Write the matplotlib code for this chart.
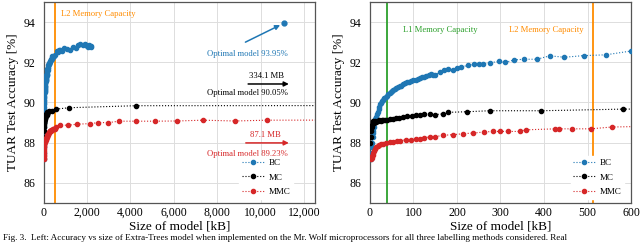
import matplotlib
matplotlib.use("Agg")
from matplotlib import pyplot as plt

plt.rcParams["font.family"] = ["Liberation Serif", "DejaVu Serif"]

# BC (binary classification) - size [kB] vs accuracy [%]
bc_size = [2, 3, 4, 5, 6, 7, 8, 9, 10, 12, 14, 16, 18, 20, 22, 24, 26, 28, 30,
           33, 36, 39, 42, 45, 48, 51, 54, 57, 60, 64, 68, 72, 76, 80, 85, 90,
           95, 100, 105, 110, 115, 120, 125, 130, 135, 140, 145, 150, 160, 170,
           180, 190, 200, 210, 225, 240, 250, 260, 275, 297, 311, 332, 355, 384,
           413, 447, 491, 542, 600, 650, 700, 766, 850, 950, 1073, 1200, 1379,
           1500, 1600, 1700, 1800, 1900, 1992, 2050, 2100, 2176, 2200]
bc_acc = [87.2, 87.5, 87.8, 88.0, 88.3, 88.5, 88.6, 88.8, 89.0, 89.2, 89.3,
          89.45, 89.55, 89.7, 89.8, 89.9, 89.95, 90.05, 90.1, 90.2, 90.25,
          90.3, 90.4, 90.45, 90.5, 90.55, 90.6, 90.65, 90.7, 90.75, 90.8, 90.8,
          90.9, 90.95, 91.0, 91.0, 91.05, 91.1, 91.1, 91.15, 91.2, 91.25, 91.25,
          91.3, 91.35, 91.4, 91.35, 91.37, 91.5, 91.6, 91.65, 91.6, 91.7, 91.76,
          91.85, 91.9, 91.9, 91.91, 91.98, 92.04, 91.99, 92.12, 92.15, 92.15,
          92.32, 92.25, 92.33, 92.37, 92.56, 92.5, 92.6, 92.6, 92.55, 92.7,
          92.65, 92.6, 92.75, 92.7, 92.85, 92.9, 92.85, 92.9, 92.8, 92.75,
          92.85, 92.77, 92.8]
bc_opt_size = [11070]
bc_opt_acc = [93.95]

# MC (multi-class)
mc_size = [1, 2, 3, 4, 5, 6, 7, 8, 10, 12, 15, 18, 21, 25, 28, 31, 35, 40, 45,
           54, 60, 66, 77, 85, 96, 105, 115, 125, 138, 150, 167, 180, 223, 275,
           394, 581, 1180, 4260, 334100]
mc_acc = [88.0, 88.3, 88.6, 88.8, 88.9, 89.0, 89.05, 89.1, 89.0, 89.1, 89.05,
          89.1, 89.15, 89.1, 89.12, 89.13, 89.15, 89.15, 89.17, 89.18, 89.22,
          89.25, 89.3, 89.32, 89.35, 89.38, 89.4, 89.42, 89.43, 89.4, 89.43,
          89.51, 89.54, 89.59, 89.59, 89.67, 89.74, 89.84, 90.05]

# MMC
mmc_size = [3, 4, 5, 6, 8, 10, 12, 15, 18, 22, 25, 31, 38, 45, 54, 62, 70, 84,
            95, 105, 115, 125, 138, 150, 169, 192, 215, 238, 261, 282, 299, 318,
            345, 358, 426, 434, 464, 507, 556, 768, 1150, 1530, 2145, 2530, 2990,
            3480, 4260, 5130, 6130, 7360, 8810, 10310, 87100]
mmc_acc = [87.2, 87.25, 87.35, 87.4, 87.47, 87.6, 87.7, 87.8, 87.85, 87.9,
           87.92, 87.96, 88.0, 88.02, 88.04, 88.08, 88.1, 88.15, 88.15, 88.18,
           88.2, 88.25, 88.29, 88.3, 88.37, 88.4, 88.45, 88.48, 88.53, 88.56,
           88.56, 88.56, 88.56, 88.64, 88.69, 88.69, 88.69, 88.69, 88.78, 88.87,
           88.87, 88.92, 88.95, 89.0, 89.0, 89.07, 89.07, 89.07, 89.08, 89.12,
           89.08, 89.12, 89.23]

l1_kb = 40
l2_kb = 512

c_bc = "#1f77b4"
c_mc = "black"
c_mmc = "#d62728"
c_l1 = "#2ca02c"
c_l2 = "#ff8c00"

fig = plt.figure(figsize=(6.4, 2.42), dpi=100)
ax1 = fig.add_axes([0.068, 0.161, 0.424, 0.831])
ax2 = fig.add_axes([0.578, 0.161, 0.408, 0.831])

for ax, anchor in ((ax1, (0.935, 0.0)), (ax2, (0.99, 0.0))):
    ax.plot(bc_size, bc_acc, ls=":", lw=0.8, marker="o", ms=3, color=c_bc, label="BC", zorder=3)
    ax.plot(mc_size, mc_acc, ls=":", lw=0.8, marker="o", ms=3, color=c_mc, label="MC", zorder=3)
    ax.plot(mmc_size, mmc_acc, ls=":", lw=0.8, marker="o", ms=3, color=c_mmc, label="MMC", zorder=3)
    ax.set_ylim(85, 95)
    ax.set_yticks([86, 88, 90, 92, 94])
    ax.grid(True, color="#dddddd", lw=0.7)
    ax.set_axisbelow(True)
    ax.tick_params(length=0, labelsize=8.5)
    ax.tick_params(axis="y", pad=6)
    ax.tick_params(axis="x", pad=3)
    for s in ax.spines.values():
        s.set_color("#555555")
        s.set_linewidth(0.9)
    ax.set_xlabel("Size of model [kB]", fontsize=9.5, labelpad=1)
    ax.set_ylabel("TUAR Test Accuracy [%]", fontsize=9.5, labelpad=3)
    ax.axvline(l2_kb, color=c_l2, lw=1.3, zorder=2)
    leg = ax.legend(loc="lower right", fontsize=6.5, frameon=True, framealpha=1,
                    edgecolor="white", handlelength=2.4, handletextpad=0.5,
                    borderpad=0.3, labelspacing=0.65, bbox_to_anchor=anchor)
    leg.set_zorder(5)

# left: full range
ax1.plot(bc_opt_size, bc_opt_acc, ls="none", marker="o", ms=3.5, color=c_bc, zorder=3)
ax1.set_xlim(0, 12500)
ax1.set_xticks([0, 2000, 4000, 6000, 8000, 10000, 12000])
ax1.set_xticklabels(["0", "2,000", "4,000", "6,000", "8,000", "10,000", "12,000"])
ax1.text(797, 94.42, "L2 Memory Capacity", color=c_l2, fontsize=6.2, va="center")

arr = dict(arrowstyle="-|>", lw=1.1, mutation_scale=7, shrinkA=0, shrinkB=0)
ax1.annotate("", xy=(10900, 93.85), xytext=(9300, 93.0), arrowprops=dict(arr, color=c_bc))
ax1.text(11264, 92.43, "Optimal model 93.95%", color=c_bc, fontsize=6.2, ha="right", va="center")

ax1.annotate("", xy=(11300, 90.92), xytext=(9425, 90.92), arrowprops=dict(arr, color=c_mc))
ax1.text(10268, 91.3, "334.1 MB", color=c_mc, fontsize=6.2, ha="center", va="center")
ax1.text(11264, 90.46, "Optimal model 90.05%", color=c_mc, fontsize=6.2, ha="right", va="center")

ax1.annotate("", xy=(11300, 87.99), xytext=(9318, 87.99), arrowprops=dict(arr, color=c_mmc))
ax1.text(10222, 88.39, "87.1 MB", color=c_mmc, fontsize=6.2, ha="center", va="center")
ax1.text(11264, 87.43, "Optimal model 89.23%", color=c_mmc, fontsize=6.2, ha="right", va="center")

# right: zoom on small models
ax2.set_xlim(0, 600)
ax2.set_xticks([0, 100, 200, 300, 400, 500, 600])
ax2.axvline(l1_kb, color=c_l1, lw=1.3, zorder=2)
ax2.text(75, 93.6, "L1 Memory Capacity", color=c_l1, fontsize=6.2, va="center")
ax2.text(490, 93.6, "L2 Memory Capacity", color=c_l2, fontsize=6.2, va="center", ha="right")

fig.text(0.005, 0.002, "Fig. 3.  Left: Accuracy vs size of Extra-Trees model when implemented on the "
         "Mr. Wolf microprocessors for all three labelling methods considered. Real",
         fontsize=6.6, va="bottom", ha="left")

fig.savefig("out.png", dpi=100)
